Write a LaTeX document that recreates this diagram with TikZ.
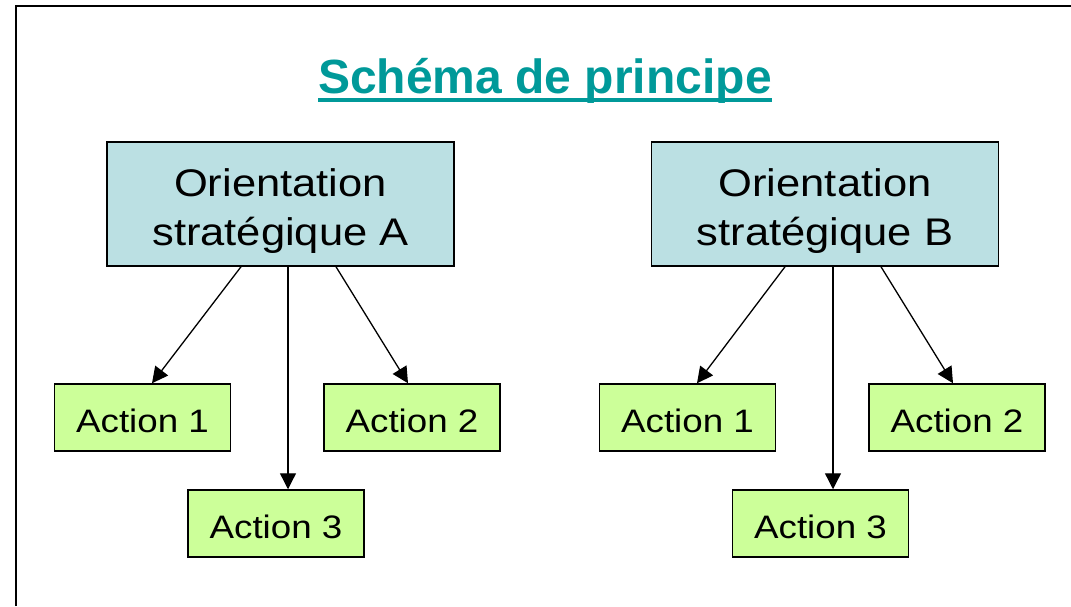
\documentclass[tikz,border=0pt]{standalone}
\usepackage{fontspec}
\setmainfont{Liberation Sans}
\newfontfamily\boxfont{Liberation Sans}[FakeStretch=1.13]
\usetikzlibrary{arrows.meta}
\definecolor{titleteal}{HTML}{009999}
\definecolor{orientfill}{HTML}{BBE0E3}
\definecolor{actionfill}{HTML}{CCFF99}
\tikzset{
  orientbox/.style={draw=black, line width=1.5pt, fill=orientfill, minimum width=347pt, minimum height=124pt, inner sep=0pt},
  orientlbl/.style={anchor=base, inner sep=0pt, font=\boxfont\fontsize{38.5}{46}\selectfont},
  actionbox/.style={draw=black, line width=1.5pt, fill=actionfill, minimum width=176pt, minimum height=67pt, inner sep=0pt, text height=29pt, text depth=0pt, font=\boxfont\fontsize{32.5}{38}\selectfont},
  arr/.style={draw=black, line width=1.3pt, -{Triangle[length=16pt,width=16pt]}},
  framestyle/.style={draw=black, line width=2.2pt}
}
\begin{document}
\begin{tikzpicture}[x=1pt,y=-1pt]
\useasboundingbox (0,0) rectangle (1071,606);
% frame
\draw[framestyle] (16,606) -- (16,6) -- (1071,6);
% title
\node[anchor=base, inner sep=0pt, text=titleteal, font=\bfseries\fontsize{48}{58}\selectfont] (title) at (545,93) {Schéma de principe};
\draw[titleteal, line width=4pt] ([yshift=-7pt]title.base west) -- ([yshift=-7pt]title.base east);
% group A
\node[orientbox] (oa) at (280.5,204) {};
\node[orientlbl] (oa1) at (280.5,196) {Orientation};
\node[orientlbl] (oa2) at (280.5,245) {stratégique A};
\node[actionbox] (a1) at (142.5,417.5) {Action 1};
\node[actionbox] (a2) at (412,417.5) {Action 2};
\node[actionbox] (a3) at (276,523.5) {Action 3};
\draw[arr] ([xshift=-39.5pt]oa.south) -- ([xshift=9.5pt]a1.north);
\draw[arr] ([xshift=7.5pt]oa.south) -- ([xshift=12pt]a3.north);
\draw[arr] ([xshift=55.5pt]oa.south) -- ([xshift=-4pt]a2.north);
% group B
\node[orientbox] (ob) at (825,204) {};
\node[orientlbl] (ob1) at (825,196) {Orientation};
\node[orientlbl] (ob2) at (825,245) {stratégique B};
\node[actionbox] (b1) at (687.5,417.5) {Action 1};
\node[actionbox] (b2) at (957,417.5) {Action 2};
\node[actionbox] (b3) at (820.5,523.5) {Action 3};
\draw[arr] ([xshift=-40pt]ob.south) -- ([xshift=9.5pt]b1.north);
\draw[arr] ([xshift=8pt]ob.south) -- ([xshift=12.5pt]b3.north);
\draw[arr] ([xshift=56pt]ob.south) -- ([xshift=-4pt]b2.north);
\end{tikzpicture}
\end{document}
